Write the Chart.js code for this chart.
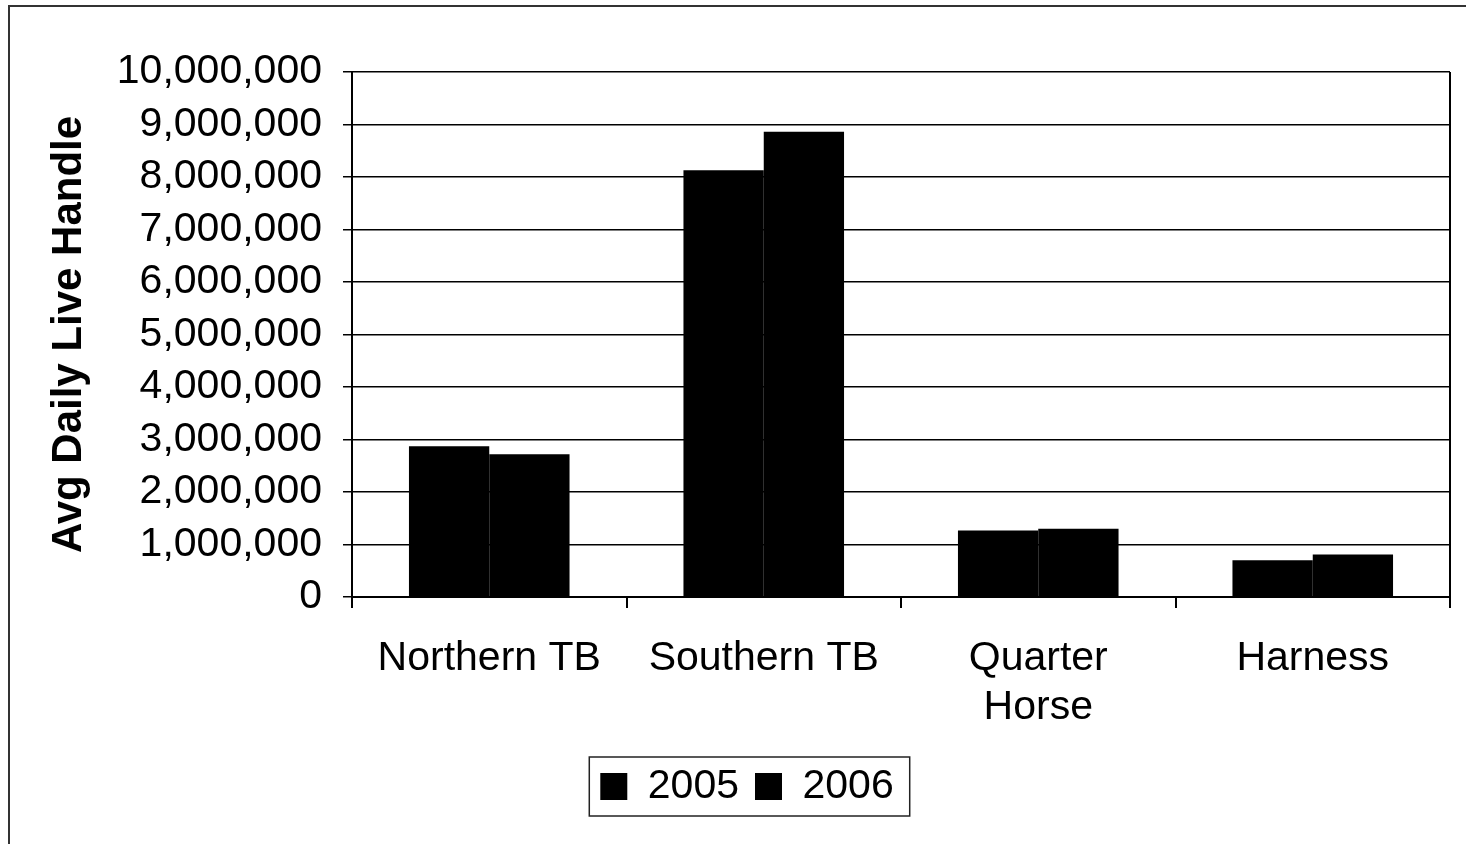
<!DOCTYPE html>
<html>
<head>
<meta charset="utf-8">
<script src="https://cdn.jsdelivr.net/npm/chart.js@4"></script>
<style>
html,body{margin:0;padding:0;background:#fff;}
#wrap{position:relative;width:1466px;height:844px;}
</style>
</head>
<body>
<div id="wrap"><canvas id="c" width="1466" height="844"></canvas></div>
<script>
const categories = [["Northern TB"], ["Southern TB"], ["Quarter", "Horse"], ["Harness"]];
const seriesNames = ["2005", "2006"];
const values2005 = [2870000, 8130000, 1265000, 700000];
const values2006 = [2720000, 8860000, 1300000, 810000];
const yTicksMax = 10000000;
const yTickStep = 1000000;
const yTitle = "Avg Daily Live Handle";

const FONT = "'Liberation Sans', Arial, sans-serif";

const framePlugin = {
  id: 'frame',
  beforeDraw(chart) {
    const ctx = chart.ctx;
    ctx.save();
    ctx.fillStyle = '#fff';
    ctx.fillRect(0, 0, chart.width, chart.height);
    ctx.strokeStyle = '#333';
    ctx.lineWidth = 2;
    ctx.beginPath();
    ctx.moveTo(9, 844);
    ctx.lineTo(9, 6);
    ctx.lineTo(1466, 6);
    ctx.stroke();
    ctx.restore();
  },
  afterDraw(chart) {
    const ctx = chart.ctx;
    const a = chart.chartArea;
    ctx.save();
    ctx.strokeStyle = '#000';
    ctx.lineWidth = 2;
    ctx.beginPath();
    ctx.moveTo(a.right, a.top);
    ctx.lineTo(a.right, a.bottom);
    ctx.stroke();
    const hb = chart.legend.legendHitBoxes;
    if (hb && hb.length) {
      const l = hb[0].left - 11;
      const r = hb[hb.length - 1].left + hb[hb.length - 1].width + 16;
      const t = hb[0].top - 9;
      const b = hb[0].top + hb[0].height + 9;
      ctx.lineWidth = 1.5;
      ctx.strokeStyle = '#222';
      ctx.strokeRect(l, t, r - l, b - t);
    }
    ctx.restore();
  }
};

new Chart(document.getElementById('c'), {
  type: 'bar',
  data: {
    labels: categories,
    datasets: [
      { label: seriesNames[0], data: values2005, backgroundColor: '#000', borderWidth: 0 },
      { label: seriesNames[1], data: values2006, backgroundColor: '#000', borderWidth: 0 }
    ]
  },
  options: {
    responsive: false,
    animation: false,
    devicePixelRatio: 1,
    layout: { padding: { left: 44, right: 16, top: 72, bottom: 27 } },
    datasets: { bar: { barPercentage: 1, categoryPercentage: 0.585 } },
    plugins: {
      tooltip: { enabled: false },
      legend: {
        position: 'bottom',
        labels: {
          color: '#000',
          font: { family: FONT, size: 41 },
          boxWidth: 27,
          boxHeight: 27,
          padding: 16
        }
      }
    },
    scales: {
      x: {
        grid: { drawOnChartArea: false, offset: true, tickLength: 11, color: '#000', lineWidth: 2 },
        border: { color: '#000', width: 2 },
        ticks: { color: '#000', font: { family: FONT, size: 41, lineHeight: 1.2 }, padding: 26, maxRotation: 0, autoSkip: false },
        afterFit(s) { s.height = 153; }
      },
      y: {
        min: 0,
        max: yTicksMax,
        grid: { color: '#000', lineWidth: 1.5, tickLength: 9 },
        border: { color: '#000', width: 2 },
        ticks: {
          stepSize: yTickStep,
          color: '#000',
          font: { family: FONT, size: 41 },
          padding: 21,
          callback: v => v.toLocaleString('en-US')
        },
        title: { display: true, text: yTitle, color: '#000', font: { family: FONT, size: 42, weight: 'bold' }, padding: 0 },
        afterFit(s) { s.width = 308; }
      }
    }
  },
  plugins: [framePlugin]
});
</script>
</body>
</html>
